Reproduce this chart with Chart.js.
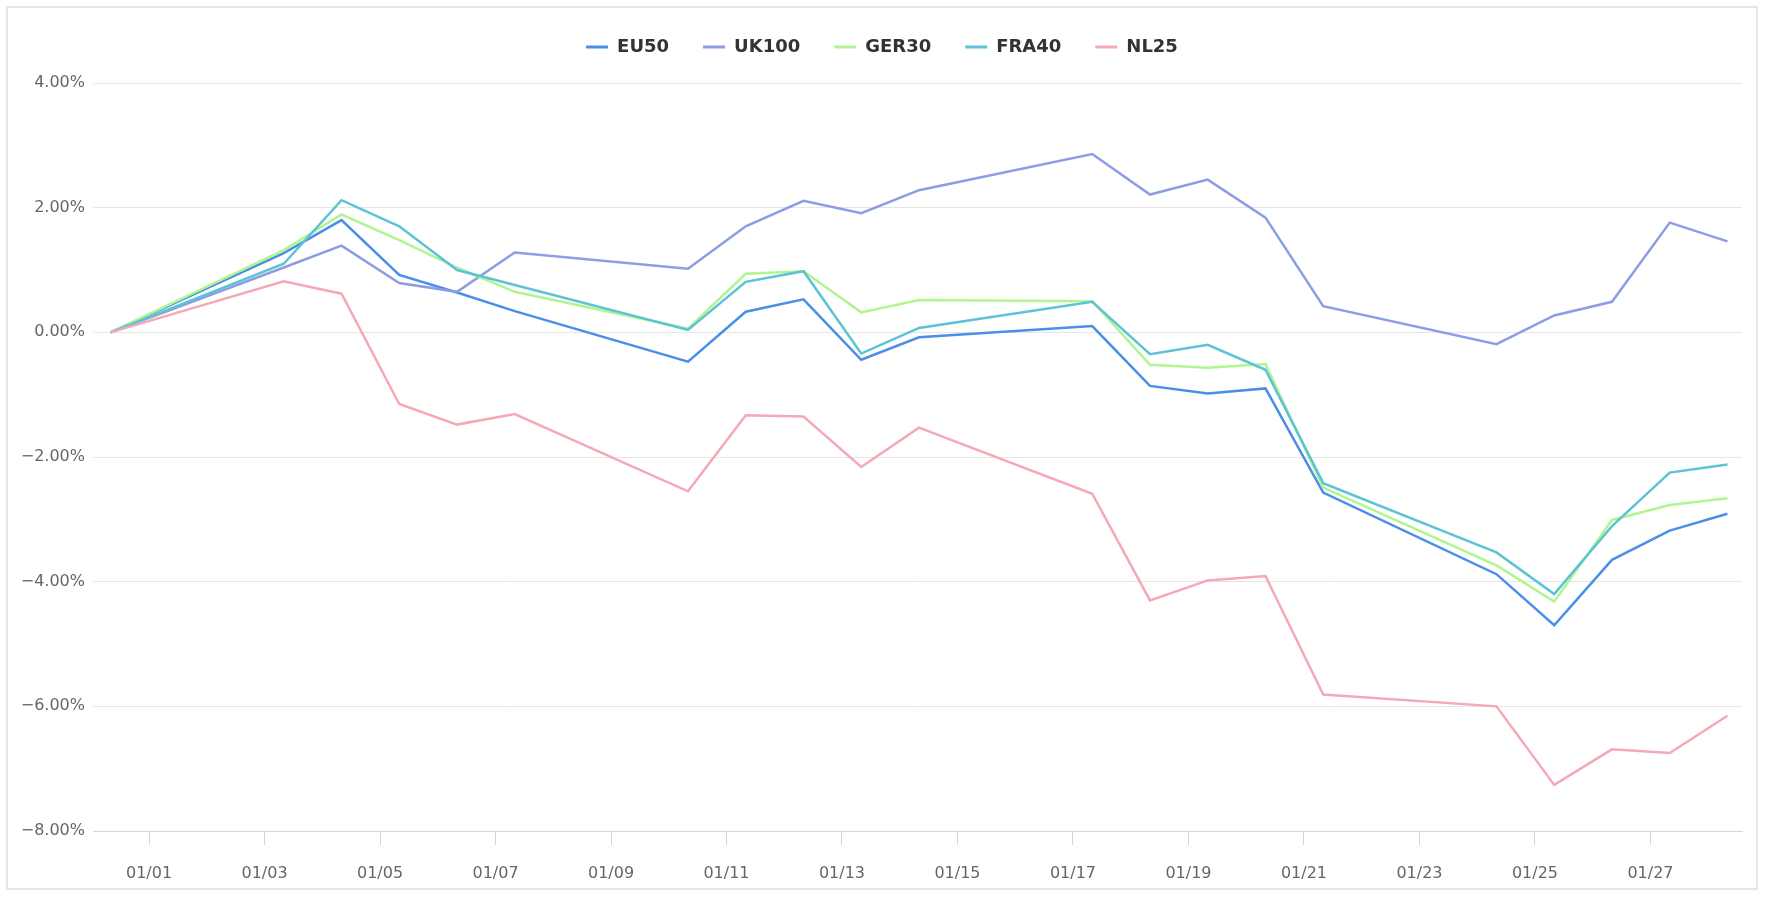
<!DOCTYPE html>
<html lang="en">
<head>
<meta charset="UTF-8">
<title>European index returns</title>
<script src="https://cdn.jsdelivr.net/npm/chart.js@4.4.1/dist/chart.umd.min.js"></script>
<style>
  html, body { margin: 0; padding: 0; background: #fff; }
  .frame { position: absolute; left: 6px; top: 6px; width: 1752px; height: 884px; box-sizing: border-box; border: 2px solid #e1e6ea; }
  canvas { display: block; }
</style>
</head>
<body>
<div class="frame"><canvas id="chart" width="1748" height="880"></canvas></div>
<script>
// Trading days (points sit at 08:00 of each day in the source)
const dates = ['2021-12-31', '2022-01-03', '2022-01-04', '2022-01-05', '2022-01-06', '2022-01-07',
  '2022-01-10', '2022-01-11', '2022-01-12', '2022-01-13', '2022-01-14',
  '2022-01-17', '2022-01-18', '2022-01-19', '2022-01-20', '2022-01-21',
  '2022-01-24', '2022-01-25', '2022-01-26', '2022-01-27', '2022-01-28'];

// Cumulative return in %
const eu50  = [0, 1.27, 1.80, 0.92, 0.64, 0.34, -0.47, 0.33, 0.53, -0.44, -0.08, 0.10, -0.86, -0.98, -0.90, -2.57, -3.88, -4.70, -3.65, -3.18, -2.91];
const uk100 = [0, 1.04, 1.39, 0.79, 0.65, 1.28, 1.02, 1.70, 2.11, 1.91, 2.28, 2.86, 2.21, 2.45, 1.84, 0.42, -0.19, 0.27, 0.49, 1.76, 1.46];
const ger30 = [0, 1.32, 1.89, 1.48, 1.04, 0.65, 0.06, 0.94, 0.98, 0.32, 0.52, 0.50, -0.52, -0.57, -0.51, -2.49, -3.74, -4.32, -3.01, -2.77, -2.66];
const fra40 = [0, 1.10, 2.12, 1.70, 1.00, 0.76, 0.04, 0.81, 0.98, -0.34, 0.07, 0.49, -0.35, -0.20, -0.60, -2.42, -3.53, -4.20, -3.11, -2.25, -2.12];
const nl25  = [0, 0.82, 0.62, -1.15, -1.48, -1.31, -2.55, -1.33, -1.35, -2.16, -1.53, -2.59, -4.30, -3.98, -3.91, -5.81, -6.00, -7.26, -6.69, -6.75, -6.15];

const seriesNames = ['EU50', 'UK100', 'GER30', 'FRA40', 'NL25'];
const seriesValues = [eu50, uk100, ger30, fra40, nl25];
const seriesColors = ['#4a8fe7', '#8d9de4', '#b1f590', '#5cc3d7', '#f4a9b5'];

const DAY = 86400000;
const base = Date.UTC(2022, 0, 1);
const hourOffset = 8;
const toX = d => (Date.parse(d + 'T00:00:00Z') - base) / DAY + hourOffset / 24;

const pad2 = n => String(n).padStart(2, '0');
const fmtDay = v => {
  const d = new Date(base + v * DAY);
  return pad2(d.getUTCMonth() + 1) + '/' + pad2(d.getUTCDate());
};
const fmtPct = v => (v < 0 ? '\u2212' : '') + Math.abs(v).toFixed(2) + '%';

const datasets = seriesNames.map((name, i) => ({
  label: name,
  data: seriesValues[i].map((v, j) => ({ x: toX(dates[j]), y: v })),
  borderColor: seriesColors[i],
  backgroundColor: seriesColors[i],
  borderWidth: 2.5,
  pointRadius: 0,
  tension: 0,
  order: seriesNames.length - i // later series on top
}));

// extra gap under the legend
const legendGap = {
  id: 'legendGap',
  beforeInit(chart) {
    const fit = chart.legend.fit;
    chart.legend.fit = function () {
      fit.bind(chart.legend)();
      this.height += 17;
    };
  }
};

const tickFont = { family: 'DejaVu Sans', size: 16 };

new Chart(document.getElementById('chart'), {
  type: 'line',
  data: { datasets },
  plugins: [legendGap],
  options: {
    responsive: false,
    animation: false,
    layout: { padding: { top: -4, left: 14, right: 14, bottom: 0 } },
    plugins: {
      tooltip: { enabled: false },
      legend: {
        position: 'top',
        align: 'center',
        labels: {
          font: { family: 'DejaVu Sans', size: 18, weight: 'bold' },
          color: '#333333',
          boxWidth: 22,
          boxHeight: 3,
          padding: 34,
          sort: (a, b) => a.datasetIndex - b.datasetIndex,
          generateLabels(chart) {
            return Chart.defaults.plugins.legend.labels.generateLabels(chart)
              .map(l => ({ ...l, lineWidth: 0, fillStyle: l.strokeStyle }));
          }
        }
      }
    },
    scales: {
      x: {
        type: 'linear',
        min: -0.97,
        max: 27.585,
        afterFit(scale) { scale.height = 57; },
        grid: { drawOnChartArea: false, drawTicks: true, tickLength: 14, tickColor: '#ccd6eb', color: '#ccd6eb' },
        border: { display: true, color: '#ccd6eb', width: 1 },
        ticks: {
          stepSize: 2,
          includeBounds: false,
          autoSkip: false,
          maxRotation: 0,
          padding: 19,
          color: '#666666',
          font: tickFont,
          callback: v => fmtDay(v)
        }
      },
      y: {
        min: -8,
        max: 4,
        afterFit(scale) { scale.width = 71; },
        grid: { color: '#e6e6e6', drawTicks: false, lineWidth: 1 },
        border: { display: false },
        ticks: {
          stepSize: 2,
          padding: 8,
          color: '#666666',
          font: tickFont,
          callback: v => fmtPct(v)
        }
      }
    }
  }
});
</script>
</body>
</html>
